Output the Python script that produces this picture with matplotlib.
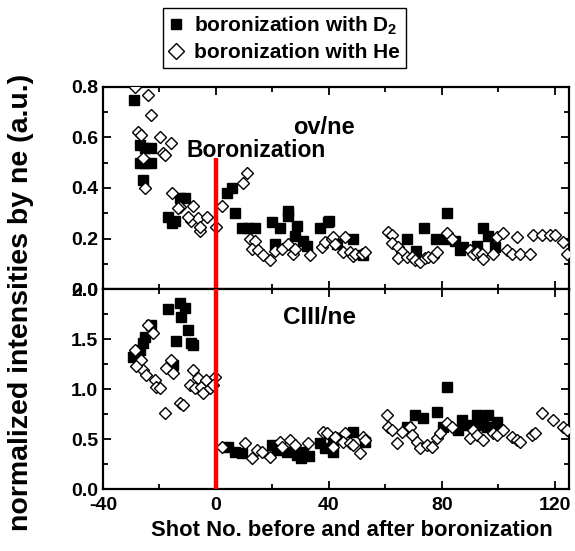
import matplotlib
matplotlib.use("Agg")
import matplotlib.pyplot as plt
from matplotlib.ticker import MultipleLocator
from matplotlib.lines import Line2D

plt.rcParams['font.family'] = ['Liberation Sans', 'DejaVu Sans']
plt.rcParams['font.weight'] = 'bold'
plt.rcParams['mathtext.fontset'] = 'custom'
plt.rcParams['mathtext.bf'] = 'Liberation Sans:bold'
plt.rcParams['mathtext.rm'] = 'Liberation Sans:bold'

# ---- top panel (OV/ne) ----
ov_d2_x = [-29, -27, -25, -23, -27, -25, -23, -26, -17, -14.5, -12.7, -11, -15.5,
           3.9, 5.7, 6.7, 9.2, 11.3, 13.8, 19.8, 22.7, 25.5, 25.5, 28.7, 28, 30.8, 32.2,
           20.9, 36.8, 39.6, 43, 40, 48.5, 52, 67.6, 73.6, 71, 81.8, 78, 81.8, 84.6,
           86.4, 87.4, 92.4, 94.5, 96.3, 98.8]
ov_d2_y = [0.75, 0.57, 0.56, 0.56, 0.50, 0.50, 0.50, 0.43, 0.285, 0.27, 0.36, 0.36, 0.26,
           0.38, 0.40, 0.30, 0.24, 0.24, 0.24, 0.265, 0.24, 0.31, 0.29, 0.25, 0.21, 0.19, 0.17,
           0.18, 0.24, 0.265, 0.18, 0.27, 0.20, 0.135, 0.20, 0.24, 0.15, 0.30, 0.20, 0.20, 0.19,
           0.155, 0.165, 0.17, 0.24, 0.21, 0.165]

ov_he_x = [-28.7, -24, -23, -27.6, -26.5, -19.8, -15.9, -18.8, -18, -25.8, -25,
           -15.6, -12.7, -8.1, -9, -6.4, -3.2, -5.7, -5.7, 0, -13.4, -9.9,
           2.1, 9.6, 11, 12, 13.8, 12.7, 14.8, 16.6, 19, 20.9, 23.4, 25.5, 27.3, 28,
           33.3, 37.5, 38.6, 41, 41.4, 42.1, 45.7, 45, 47.4, 48.5, 49.2, 51.7, 52.8,
           60.9, 62.3, 62.3, 64.4, 65.8, 64.4, 67.6, 69.4, 70.4, 72.2, 74, 75, 76.8, 78.2,
           81.8, 83.5, 90, 91, 92.4, 94.2, 94.5, 98, 99.5, 101.6, 103, 104.8, 106.6, 107.6,
           111.2, 112.2, 115.4, 118.2, 120, 122.8, 124.3]
ov_he_y = [0.80, 0.77, 0.69, 0.62, 0.61, 0.60, 0.58, 0.54, 0.53, 0.52, 0.40,
           0.38, 0.325, 0.33, 0.27, 0.28, 0.285, 0.23, 0.245, 0.245, 0.32, 0.285,
           0.33, 0.42, 0.46, 0.20, 0.19, 0.16, 0.155, 0.135, 0.115, 0.15, 0.16, 0.18, 0.14, 0.16,
           0.135, 0.165, 0.185, 0.20, 0.205, 0.18, 0.205, 0.145, 0.145, 0.13, 0.14, 0.14, 0.145,
           0.226, 0.214, 0.182, 0.166, 0.147, 0.123, 0.127, 0.127, 0.115, 0.107, 0.123, 0.127, 0.127, 0.147,
           0.22, 0.20, 0.155, 0.14, 0.145, 0.14, 0.12, 0.14, 0.205, 0.22, 0.155, 0.14, 0.205, 0.14,
           0.14, 0.214, 0.214, 0.214, 0.214, 0.186, 0.14]

# ---- bottom panel (CIII/ne) ----
c3_d2_x = [-17, -12.7, -11, -12.4, -10, -14.2, -8.8, -8.1, -23, -25, -25.8, -26.9, -29.4, -15.2,
           4.2, 6.7, 9.2, 19.8, 21.6, 25.1, 28.7, 30.8, 36.8, 38.6, 41.4, 30, 33,
           81.8, 70.4, 73.3, 78.2, 67.6, 48.5, 41.4, 52.8, 80.4, 87.1, 85.7, 88.9, 92.4, 96.3,
           92.8, 96, 99.5, 94.5, 98]
c3_d2_y = [1.80, 1.86, 1.81, 1.72, 1.59, 1.48, 1.46, 1.44, 1.64, 1.52, 1.46, 1.39, 1.32, 1.24,
           0.42, 0.37, 0.36, 0.44, 0.39, 0.37, 0.34, 0.37, 0.46, 0.41, 0.37, 0.31, 0.33,
           1.02, 0.74, 0.71, 0.77, 0.62, 0.57, 0.49, 0.47, 0.62, 0.69, 0.59, 0.64, 0.74, 0.74,
           0.64, 0.62, 0.67, 0.67, 0.62]

c3_he_x = [-24.1, -22.3, -28.7, -26.5, -25.8, -28.3, -24.8, -21.6, -21.2, -19.8, -15.9, -17.7, -15.2,
           -18, -12.7, -11.7, -8.1, -6.4, -9.2, -7.4, -5.3, -4.6, -3.5, -2.1, -0.35, -1,
           2.1, 10.3, 12.7, 14.5, 16.3, 19, 22.7, 23.4, 26.2, 28, 32.6, 37.9, 39.3, 43,
           42.1, 41.4, 45.7, 45, 47.4, 48.5, 51, 52, 52.8,
           60.5, 60.9, 62.3, 64, 65.8, 68.6, 69.4, 71.2, 72.2, 74.7, 76.5, 78.2, 79.3, 81.8, 83.5,
           89.9, 91, 92.4, 94.5, 98, 99.5, 101.6, 104.8, 106.6, 107.6, 111.9, 112.9, 115.4, 119.3,
           122.8, 124.3]
c3_he_y = [1.64, 1.56, 1.39, 1.29, 1.19, 1.23, 1.14, 1.09, 1.02, 1.01, 1.29, 1.21, 1.16,
           0.76, 0.86, 0.84, 1.19, 1.11, 1.04, 1.01, 1.02, 0.96, 1.09, 1.01, 1.12, 1.04,
           0.42, 0.46, 0.31, 0.39, 0.37, 0.32, 0.47, 0.42, 0.49, 0.44, 0.46, 0.57, 0.56, 0.51,
           0.52, 0.42, 0.56, 0.47, 0.46, 0.44, 0.36, 0.52, 0.49,
           0.74, 0.62, 0.59, 0.46, 0.57, 0.62, 0.54, 0.47, 0.41, 0.44, 0.42, 0.51, 0.56, 0.66, 0.62,
           0.51, 0.59, 0.54, 0.49, 0.56, 0.54, 0.59, 0.52, 0.49, 0.47, 0.54, 0.56, 0.76, 0.69,
           0.62, 0.59]

x_ticks = [-40, 0, 40, 80, 120]
top_yticks = [0.0, 0.2, 0.4, 0.6, 0.8]
bot_yticks = [0.0, 0.5, 1.0, 1.5, 2.0]

fig = plt.figure(figsize=(5.75, 5.51), dpi=100)
L, R = 103/575, 569/575
ax1 = fig.add_axes([L, 1-289/551, R-L, (289-87)/551])
ax2 = fig.add_axes([L, 1-489/551, R-L, (489-289)/551])

sq = dict(marker='s', ms=6.5, color='black', ls='none', mec='black')
dm = dict(marker='D', ms=6.5, mfc='white', mec='black', mew=1.0, ls='none')

TICKFS = 14
for ax, dx, dy, hx, hy in [(ax1, ov_d2_x, ov_d2_y, ov_he_x, ov_he_y),
                            (ax2, c3_d2_x, c3_d2_y, c3_he_x, c3_he_y)]:
    ax.plot(dx, dy, zorder=3, **sq)
    ax.plot(hx, hy, zorder=4, **dm)
    ax.set_xlim(-40, 125)
    ax.set_xticks(x_ticks)
    ax.xaxis.set_minor_locator(MultipleLocator(20))
    ax.tick_params(which='both', direction='in', top=True, right=True, width=1.3, labelsize=TICKFS)
    ax.tick_params(which='major', length=6)
    ax.tick_params(which='minor', length=3.5)
    for s in ax.spines.values():
        s.set_linewidth(1.6)

ax1.set_ylim(0, 0.8)
ax1.set_yticks(top_yticks)
ax1.set_yticklabels(['0.0', '0.2', '0.4', '0.6', '0.8'], fontweight='bold', fontsize=TICKFS)
ax1.yaxis.set_minor_locator(MultipleLocator(0.1))
ax1.tick_params(labelbottom=False)

ax2.set_ylim(0, 2.0)
ax2.set_yticks(bot_yticks)
ax2.set_yticklabels(['0.0', '0.5', '1.0', '1.5', '2.0'], fontweight='bold', fontsize=TICKFS)
ax2.yaxis.set_minor_locator(MultipleLocator(0.25))
ax2.set_xticklabels([str(v) for v in x_ticks], fontweight='bold', fontsize=TICKFS)
ax2.tick_params(axis='x', pad=6)

# boronization marker line
ax1.plot([0, 0], [0, 0.52], color='red', lw=3.2, zorder=5, solid_capstyle='butt')
ax2.plot([0, 0], [0, 2.0], color='red', lw=3.2, zorder=5, solid_capstyle='butt')

ax1.text(27.3, 0.64, 'ov/ne', fontsize=17, fontweight='bold', va='center', ha='left')
ax1.text(-10.6, 0.55, 'Boronization', fontsize=16.5, fontweight='bold', va='center', ha='left')
ax2.text(23.7, 1.71, 'CIII/ne', fontsize=17.5, fontweight='bold', va='center', ha='left')

fig.text(21/575, 1-302/551, 'normalized intensities by ne (a.u.)', rotation=90,
         fontsize=20.5, fontweight='bold', ha='center', va='center')
fig.text(352/575, 1-530/551, 'Shot No. before and after boronization',
         fontsize=15.8, fontweight='bold', ha='center', va='center')

handles = [Line2D([], [], **sq), Line2D([], [], **dm)]
leg = fig.legend(handles, [r'boronization with D$_{\mathbf{2}}$', 'boronization with He'],
                 loc='upper left', bbox_to_anchor=(163/575, 1-8/551),
                 frameon=True, fancybox=False, edgecolor='black', framealpha=1,
                 prop={'weight': 'bold', 'size': 15}, handlelength=0.6, handletextpad=0.6,
                 borderpad=0.3, labelspacing=0.3, borderaxespad=0, markerscale=1.2)
leg.get_frame().set_linewidth(1.0)

fig.savefig('out.png', dpi=100)
